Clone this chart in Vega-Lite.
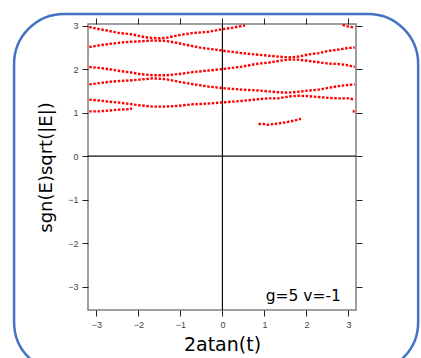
{
  "$schema": "https://vega.github.io/schema/vega-lite/v6.json",
  "width": 268,
  "height": 286,
  "autosize": {"type": "none"},
  "padding": {"left": 88, "top": 24, "right": 65, "bottom": 48},
  "background": "white",
  "config": {
    "view": {"stroke": "#808080", "strokeWidth": 1.5},
    "axis": {
      "grid": false,
      "domain": false,
      "tickColor": "#222222",
      "tickSize": 6,
      "tickWidth": 1,
      "labelFont": "Liberation Sans",
      "labelFontSize": 9,
      "labelColor": "#444444",
      "labelPadding": 4,
      "titleFont": "DejaVu Sans",
      "titleFontWeight": "normal",
      "titleColor": "#000000"
    }
  },
  "resolve": {"axis": {"x": "independent", "y": "independent"}},
  "data": {
    "values": [
      {"curve": "A1", "x": -3.17, "y": 2.97}, {"curve": "A1", "x": -2.93, "y": 2.92}, {"curve": "A1", "x": -2.69, "y": 2.88}, {"curve": "A1", "x": -2.45, "y": 2.83}, {"curve": "A1", "x": -2.21, "y": 2.81}, {"curve": "A1", "x": -2.05, "y": 2.78}, {"curve": "A1", "x": -1.86, "y": 2.74}, {"curve": "A1", "x": -1.66, "y": 2.72}, {"curve": "A1", "x": -1.5, "y": 2.71}, {"curve": "A1", "x": -1.35, "y": 2.72}, {"curve": "A1", "x": -1.05, "y": 2.78}, {"curve": "A1", "x": -0.73, "y": 2.83}, {"curve": "A1", "x": -0.33, "y": 2.86}, {"curve": "A1", "x": -0.01, "y": 2.92}, {"curve": "A1", "x": 0.22, "y": 2.95}, {"curve": "A1", "x": 0.54, "y": 3.01},
      {"curve": "A2", "x": 2.86, "y": 3.02}, {"curve": "A2", "x": 3.0, "y": 2.98}, {"curve": "A2", "x": 3.15, "y": 2.96},
      {"curve": "B", "x": -3.17, "y": 2.51}, {"curve": "B", "x": -2.93, "y": 2.55}, {"curve": "B", "x": -2.69, "y": 2.58}, {"curve": "B", "x": -2.45, "y": 2.61}, {"curve": "B", "x": -2.21, "y": 2.63}, {"curve": "B", "x": -1.98, "y": 2.64}, {"curve": "B", "x": -1.66, "y": 2.66}, {"curve": "B", "x": -1.34, "y": 2.65}, {"curve": "B", "x": -1.05, "y": 2.6}, {"curve": "B", "x": -0.81, "y": 2.55}, {"curve": "B", "x": -0.49, "y": 2.49}, {"curve": "B", "x": -0.17, "y": 2.45}, {"curve": "B", "x": 0.14, "y": 2.41}, {"curve": "B", "x": 0.46, "y": 2.37}, {"curve": "B", "x": 0.78, "y": 2.34}, {"curve": "B", "x": 1.1, "y": 2.31}, {"curve": "B", "x": 1.33, "y": 2.29}, {"curve": "B", "x": 1.57, "y": 2.27}, {"curve": "B", "x": 1.81, "y": 2.29}, {"curve": "B", "x": 2.05, "y": 2.34}, {"curve": "B", "x": 2.29, "y": 2.37}, {"curve": "B", "x": 2.52, "y": 2.42}, {"curve": "B", "x": 2.76, "y": 2.45}, {"curve": "B", "x": 3.0, "y": 2.49}, {"curve": "B", "x": 3.15, "y": 2.5},
      {"curve": "C", "x": -3.17, "y": 2.05}, {"curve": "C", "x": -2.93, "y": 2.03}, {"curve": "C", "x": -2.69, "y": 2.0}, {"curve": "C", "x": -2.45, "y": 1.96}, {"curve": "C", "x": -2.21, "y": 1.93}, {"curve": "C", "x": -1.98, "y": 1.89}, {"curve": "C", "x": -1.66, "y": 1.86}, {"curve": "C", "x": -1.34, "y": 1.86}, {"curve": "C", "x": -1.03, "y": 1.89}, {"curve": "C", "x": -0.73, "y": 1.93}, {"curve": "C", "x": -0.33, "y": 1.97}, {"curve": "C", "x": 0.06, "y": 2.01}, {"curve": "C", "x": 0.46, "y": 2.06}, {"curve": "C", "x": 0.86, "y": 2.13}, {"curve": "C", "x": 1.1, "y": 2.15}, {"curve": "C", "x": 1.33, "y": 2.19}, {"curve": "C", "x": 1.57, "y": 2.22}, {"curve": "C", "x": 1.81, "y": 2.22}, {"curve": "C", "x": 2.05, "y": 2.19}, {"curve": "C", "x": 2.29, "y": 2.16}, {"curve": "C", "x": 2.52, "y": 2.13}, {"curve": "C", "x": 2.76, "y": 2.12}, {"curve": "C", "x": 3.0, "y": 2.09}, {"curve": "C", "x": 3.15, "y": 2.05},
      {"curve": "D", "x": -3.17, "y": 1.65}, {"curve": "D", "x": -2.93, "y": 1.68}, {"curve": "D", "x": -2.69, "y": 1.71}, {"curve": "D", "x": -2.45, "y": 1.73}, {"curve": "D", "x": -2.21, "y": 1.74}, {"curve": "D", "x": -1.98, "y": 1.76}, {"curve": "D", "x": -1.66, "y": 1.79}, {"curve": "D", "x": -1.34, "y": 1.77}, {"curve": "D", "x": -1.03, "y": 1.71}, {"curve": "D", "x": -0.73, "y": 1.66}, {"curve": "D", "x": -0.33, "y": 1.6}, {"curve": "D", "x": 0.06, "y": 1.56}, {"curve": "D", "x": 0.46, "y": 1.53}, {"curve": "D", "x": 0.86, "y": 1.51}, {"curve": "D", "x": 1.1, "y": 1.49}, {"curve": "D", "x": 1.33, "y": 1.47}, {"curve": "D", "x": 1.57, "y": 1.46}, {"curve": "D", "x": 1.81, "y": 1.48}, {"curve": "D", "x": 2.05, "y": 1.51}, {"curve": "D", "x": 2.29, "y": 1.53}, {"curve": "D", "x": 2.52, "y": 1.57}, {"curve": "D", "x": 2.76, "y": 1.61}, {"curve": "D", "x": 3.0, "y": 1.64}, {"curve": "D", "x": 3.15, "y": 1.65},
      {"curve": "E", "x": -3.17, "y": 1.3}, {"curve": "E", "x": -2.93, "y": 1.28}, {"curve": "E", "x": -2.69, "y": 1.25}, {"curve": "E", "x": -2.45, "y": 1.23}, {"curve": "E", "x": -2.21, "y": 1.2}, {"curve": "E", "x": -1.98, "y": 1.17}, {"curve": "E", "x": -1.66, "y": 1.14}, {"curve": "E", "x": -1.34, "y": 1.14}, {"curve": "E", "x": -1.03, "y": 1.16}, {"curve": "E", "x": -0.73, "y": 1.19}, {"curve": "E", "x": -0.33, "y": 1.21}, {"curve": "E", "x": 0.06, "y": 1.24}, {"curve": "E", "x": 0.46, "y": 1.27}, {"curve": "E", "x": 0.86, "y": 1.31}, {"curve": "E", "x": 1.1, "y": 1.33}, {"curve": "E", "x": 1.33, "y": 1.33}, {"curve": "E", "x": 1.57, "y": 1.37}, {"curve": "E", "x": 1.81, "y": 1.39}, {"curve": "E", "x": 2.05, "y": 1.38}, {"curve": "E", "x": 2.29, "y": 1.36}, {"curve": "E", "x": 2.52, "y": 1.34}, {"curve": "E", "x": 2.76, "y": 1.33}, {"curve": "E", "x": 3.0, "y": 1.33}, {"curve": "E", "x": 3.15, "y": 1.3},
      {"curve": "F1", "x": -3.17, "y": 1.03}, {"curve": "F1", "x": -2.93, "y": 1.03}, {"curve": "F1", "x": -2.69, "y": 1.05}, {"curve": "F1", "x": -2.45, "y": 1.07}, {"curve": "F1", "x": -2.21, "y": 1.08}, {"curve": "F1", "x": -2.15, "y": 1.1},
      {"curve": "F2", "x": 3.1, "y": 1.03}, {"curve": "F2", "x": 3.15, "y": 1.03},
      {"curve": "G", "x": 0.86, "y": 0.74}, {"curve": "G", "x": 0.98, "y": 0.74}, {"curve": "G", "x": 1.06, "y": 0.72}, {"curve": "G", "x": 1.33, "y": 0.75}, {"curve": "G", "x": 1.57, "y": 0.79}, {"curve": "G", "x": 1.81, "y": 0.84}, {"curve": "G", "x": 1.87, "y": 0.86}
    ]
  },
  "layer": [
    {
      "data": {"values": [{}]},
      "mark": {"type": "rect", "filled": false, "stroke": "#4472c4", "strokeWidth": 2.5, "cornerRadius": 50, "clip": false},
      "encoding": {
        "x": {"datum": -4.96, "type": "quantitative", "scale": {"domain": [-3.2, 3.18], "nice": false, "zero": false},
              "axis": {"orient": "top", "labels": false, "title": null, "values": [-3, -2, -1, 0, 1, 2, 3]}},
        "x2": {"datum": 4.66},
        "y": {"datum": 3.27, "type": "quantitative", "scale": {"domain": [-3.54, 3.04], "nice": false, "zero": false},
              "axis": {"orient": "right", "labels": false, "title": null, "values": [-3, -2, -1, 0, 1, 2, 3]}},
        "y2": {"datum": -4.97}
      }
    },
    {
      "data": {"values": [{}]},
      "mark": {"type": "rule", "color": "#111111", "strokeWidth": 1.2},
      "encoding": {
        "x": {"datum": 0, "type": "quantitative", "scale": {"domain": [-3.2, 3.18], "nice": false, "zero": false}, "axis": null}
      }
    },
    {
      "data": {"values": [{}]},
      "mark": {"type": "rule", "color": "#111111", "strokeWidth": 1.2},
      "encoding": {
        "y": {"datum": 0, "type": "quantitative", "scale": {"domain": [-3.54, 3.04], "nice": false, "zero": false}, "axis": null}
      }
    },
    {
      "mark": {"type": "line", "color": "#ff0000", "strokeWidth": 2.4, "strokeDash": [2.5, 1.6], "strokeCap": "butt", "clip": true},
      "encoding": {
        "x": {"field": "x", "type": "quantitative", "scale": {"domain": [-3.2, 3.18], "nice": false, "zero": false},
              "axis": {"orient": "bottom", "values": [-3, -2, -1, 0, 1, 2, 3], "title": "2atan(t)", "titleFontSize": 19, "titlePadding": 6}},
        "y": {"field": "y", "type": "quantitative", "scale": {"domain": [-3.54, 3.04], "nice": false, "zero": false},
              "axis": {"orient": "left", "values": [-3, -2, -1, 0, 1, 2, 3], "title": "sgn(E)sqrt(|E|)", "titleFontSize": 18, "titlePadding": 12}},
        "detail": {"field": "curve", "type": "nominal"}
      }
    },
    {
      "data": {"values": [{"label": "g=5 v=-1"}]},
      "mark": {"type": "text", "font": "DejaVu Sans", "fontSize": 15.5, "align": "right", "baseline": "alphabetic", "color": "#000000"},
      "encoding": {
        "x": {"datum": 2.82, "type": "quantitative", "scale": {"domain": [-3.2, 3.18], "nice": false, "zero": false}, "axis": null},
        "y": {"datum": -3.33, "type": "quantitative", "scale": {"domain": [-3.54, 3.04], "nice": false, "zero": false}, "axis": null},
        "text": {"field": "label", "type": "nominal"}
      }
    }
  ]
}
